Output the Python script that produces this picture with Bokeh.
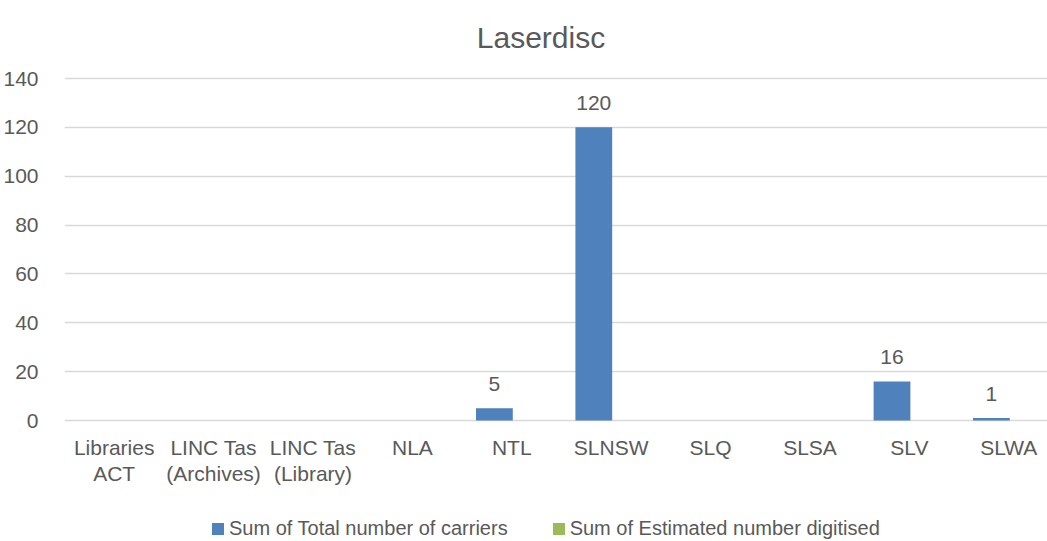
import numpy as np
from bokeh.plotting import figure
from bokeh.models import (ColumnDataSource, Range1d, FixedTicker, LabelSet, Label,
                          Legend, LegendItem)
from bokeh.core.properties import value
from bokeh.embed import file_html
from bokeh.resources import INLINE

# ---- data ----
categories = ["Libraries\nACT", "LINC Tas\n(Archives)", "LINC Tas\n(Library)", "NLA", "NTL",
              "SLNSW", "SLQ", "SLSA", "SLV", "SLWA"]
total_carriers = [0, 0, 0, 0, 5, 120, 0, 0, 16, 1]
est_digitised = [0, 0, 0, 0, 0, 0, 0, 0, 0, 0]
series_names = ["Sum of Total number of carriers", "Sum of Estimated number digitised"]
y_ticks = [0, 20, 40, 60, 80, 100, 120, 140]
chart_title = "Laserdisc"

FONT = "Liberation Sans"
TXT = "#595959"
BLUE = "#4F81BD"
GREEN = "#9BBB59"

W, H = 1047, 541
LEFT = 63                     # frame left edge
Y0_PX, Y140_PX = 420, 78      # pixel rows of value 0 and value 140
ppu = (Y0_PX - Y140_PX) / (y_ticks[-1] - y_ticks[0])
cat_px = 99.5

idx = np.arange(len(categories))
bar_w = 0.37
off = 0.175

src = ColumnDataSource(dict(x1=idx - off, x2=idx + off, t1=total_carriers, t2=est_digitised))
nz = [i for i, v in enumerate(total_carriers) if v != 0]
lab_src = ColumnDataSource(dict(x=[idx[i] - off for i in nz],
                                y=[total_carriers[i] for i in nz],
                                t=[str(total_carriers[i]) for i in nz]))
line1 = [c.split("\n")[0] for c in categories]
line2 = [c.split("\n")[1] if "\n" in c else "" for c in categories]
cat_src1 = ColumnDataSource(dict(x=idx, y=[0] * len(categories), t=line1))
cat_src2 = ColumnDataSource(dict(x=idx, y=[0] * len(categories), t=line2))

x_end = -0.5 + (W - LEFT) / cat_px
y_start = -(H - Y0_PX) / ppu
y_end = y_ticks[-1] + Y140_PX / ppu

p = figure(width=W, height=H, output_backend="svg", toolbar_location=None,
           x_range=Range1d(-0.5, x_end), y_range=Range1d(y_start, y_end),
           min_border_left=LEFT, min_border_right=0, min_border_top=0, min_border_bottom=0,
           x_axis_location=None)
p.outline_line_color = None
p.background_fill_color = "white"
p.border_fill_color = "white"

r1 = p.vbar(x="x1", top="t1", bottom=0, width=bar_w, source=src, fill_color=BLUE, line_color=None)
r2 = p.vbar(x="x2", top="t2", bottom=0, width=bar_w, source=src, fill_color=GREEN, line_color=None)

# value labels
p.add_layout(LabelSet(x="x", y="y", text="t", source=lab_src, text_align="center",
                      text_baseline="alphabetic", y_offset=17, text_font=value(FONT),
                      text_font_size=value("21px"), text_color=TXT))

# category labels (two centred lines)
p.add_layout(LabelSet(x="x", y="y", text="t", source=cat_src1, text_align="center",
                      text_baseline="top", y_offset=-15, text_font=value(FONT),
                      text_font_size=value("21px"), text_color=TXT))
p.add_layout(LabelSet(x="x", y="y", text="t", source=cat_src2, text_align="center",
                      text_baseline="top", y_offset=-41, text_font=value(FONT),
                      text_font_size=value("21px"), text_color=TXT))

# title
p.add_layout(Label(x=(W / 2 + 16) - LEFT, y=H - 37, x_units="screen", y_units="screen",
                   text=chart_title, text_align="center", text_baseline="alphabetic",
                   text_font=FONT, text_font_size="30px", text_color=TXT))

p.yaxis.ticker = FixedTicker(ticks=y_ticks)
p.yaxis.major_label_text_font = FONT
p.yaxis.major_label_text_font_size = "21px"
p.yaxis.major_label_text_color = TXT
p.yaxis.major_label_standoff = 20
p.yaxis.axis_line_color = None
p.yaxis.major_tick_line_color = None
p.yaxis.minor_tick_line_color = None

p.xgrid.grid_line_color = None
p.ygrid.ticker = FixedTicker(ticks=y_ticks)
p.ygrid.grid_line_color = "#D9D9D9"
p.ygrid.grid_line_width = 1.5

legend = Legend(items=[LegendItem(label=series_names[0], renderers=[r1]),
                       LegendItem(label=series_names[1], renderers=[r2])],
                orientation="horizontal", location=(146, 1),
                glyph_width=15, glyph_height=15, label_standoff=4, spacing=43,
                padding=0, margin=0, border_line_color=None, background_fill_alpha=0,
                label_text_font=FONT, label_text_font_size="20px", label_text_color=TXT)
p.add_layout(legend)

open("out.html", "w").write(file_html(p, INLINE))
